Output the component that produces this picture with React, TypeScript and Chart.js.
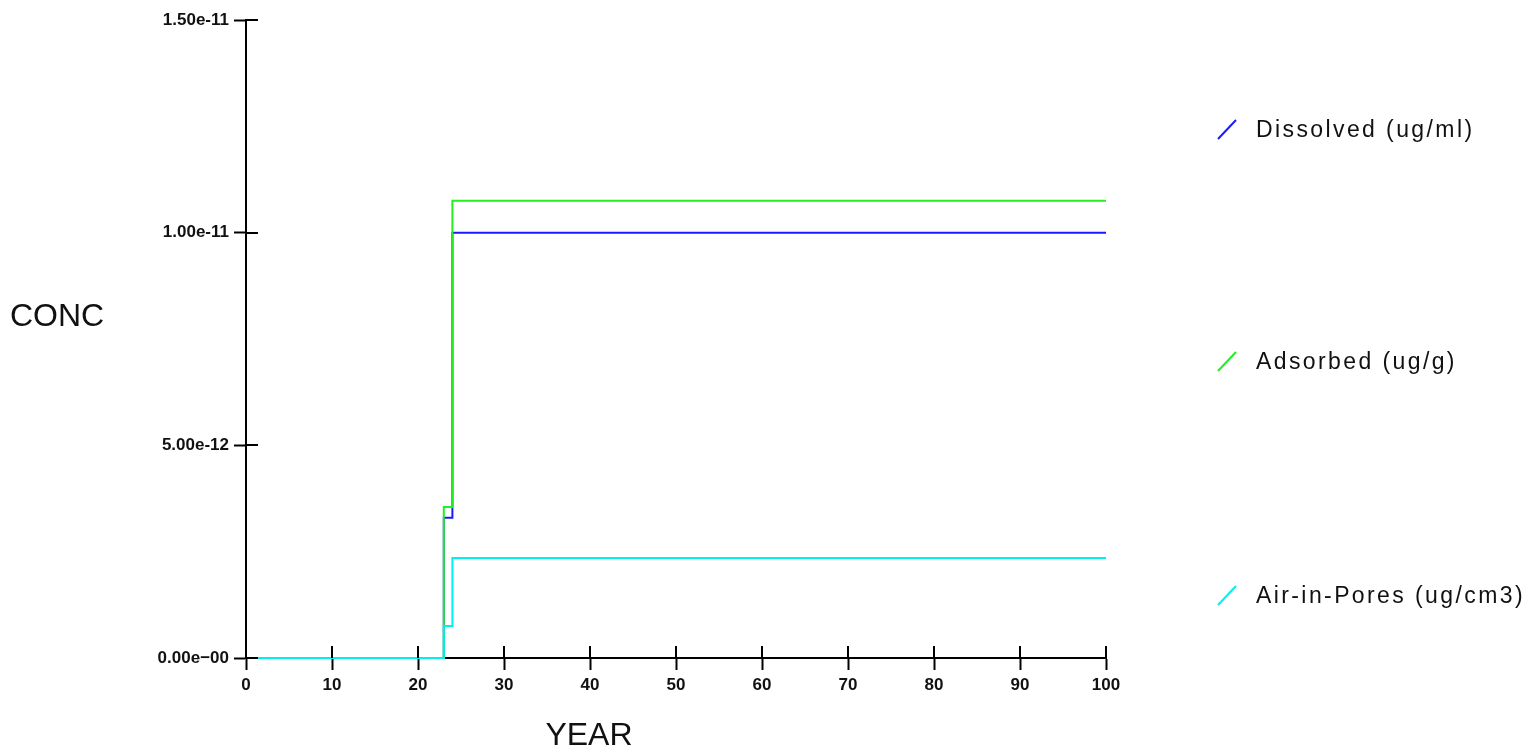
import React, { useEffect, useRef } from "react";
import { Chart, registerables } from "chart.js";

Chart.register(...registerables);

// ---- data ----
const years = [0, 23, 24, 100];
const dissolved = [0, 3.3e-12, 1.0e-11, 1.0e-11];
const adsorbed = [0, 3.55e-12, 1.075e-11, 1.075e-11];
const airInPores = [0, 0.75e-12, 2.35e-12, 2.35e-12];

const seriesNames = ["Dissolved (ug/ml)", "Adsorbed (ug/g)", "Air-in-Pores (ug/cm3)"];
const seriesColors = ["#1a1aff", "#22ee22", "#00f0f0"];

const xTickValues = [0, 10, 20, 30, 40, 50, 60, 70, 80, 90, 100];
const yTickLabels = ["0.00e\u221200", "5.00e-12", "1.00e-11", "1.50e-11"];

const xTitle = "YEAR";
const yTitle = "CONC";

const FONT = "'Liberation Sans', Arial, sans-serif";

const decorPlugin = {
  id: "decor",
  afterDatasetsDraw(chart: any) {
    const ctx = chart.ctx;
    const xs = chart.scales.x;
    const ys = chart.scales.y;
    const area = chart.chartArea;
    ctx.save();
    ctx.strokeStyle = "#000";
    ctx.lineWidth = 2;
    ctx.beginPath();
    xs.ticks.forEach((_t: any, i: number) => {
      const px = Math.round(xs.getPixelForTick(i));
      ctx.moveTo(px, area.bottom);
      ctx.lineTo(px, area.bottom - 12);
    });
    ys.ticks.forEach((_t: any, i: number) => {
      const py = Math.round(ys.getPixelForTick(i));
      ctx.moveTo(area.left, py);
      ctx.lineTo(area.left + 12, py);
    });
    ctx.stroke();

    // axis titles
    ctx.fillStyle = "#111";
    ctx.font = `32px ${FONT}`;
    ctx.textBaseline = "alphabetic";
    ctx.textAlign = "left";
    ctx.fillText(yTitle, 10, 326);
    ctx.textAlign = "center";
    ctx.fillText(xTitle, 589, 745);

    // legend
    const baselines = [137, 369, 603];
    ctx.font = `23px ${FONT}`;
    ctx.textAlign = "left";
    try {
      (ctx as any).letterSpacing = "2.4px";
    } catch (e) {}
    seriesNames.forEach((name, i) => {
      const b = baselines[i];
      ctx.strokeStyle = seriesColors[i];
      ctx.lineWidth = 2;
      ctx.beginPath();
      ctx.moveTo(1218, b + 2);
      ctx.lineTo(1236, b - 17);
      ctx.stroke();
      ctx.fillStyle = "#111";
      ctx.fillText(name, 1256, b);
    });
    ctx.restore();
  },
};

export default function App() {
  const ref = useRef<HTMLCanvasElement>(null);

  useEffect(() => {
    if (!ref.current) return;
    const mk = (d: number[]) => years.map((x, i) => ({ x, y: d[i] }));
    const ds = (i: number, d: number[], order: number) => ({
      label: seriesNames[i],
      data: mk(d),
      borderColor: seriesColors[i],
      borderWidth: 2,
      stepped: "before",
      pointRadius: 0,
      order,
      clip: false,
    });
    const chart = new Chart(ref.current, {
      type: "line",
      data: {
        datasets: [ds(0, dissolved, 2), ds(1, adsorbed, 1), ds(2, airInPores, 0)],
      },
      options: {
        animation: false,
        responsive: false,
        layout: { padding: { left: 0, top: 20, right: 431, bottom: 0 } },
        plugins: {
          legend: { display: false },
          tooltip: { enabled: false },
          title: { display: false },
        },
        scales: {
          x: {
            type: "linear",
            min: 0,
            max: 100,
            afterBuildTicks: (s: any) => {
              s.ticks = xTickValues.map((v) => ({ value: v }));
            },
            afterFit: (s: any) => {
              s.height = 98;
            },
            ticks: {
              color: "#111",
              font: { family: FONT, size: 17, weight: "bold" },
              padding: 5,
              maxRotation: 0,
              autoSkip: false,
            },
            grid: {
              drawOnChartArea: false,
              drawTicks: true,
              tickLength: 12,
              tickWidth: 2,
              tickColor: "#000",
            },
            border: { display: true, color: "#000", width: 2 },
          },
          y: {
            type: "linear",
            min: 0,
            max: 1.5e-11,
            ticks: {
              stepSize: 5e-12,
              color: "#111",
              font: { family: FONT, size: 17, weight: "bold" },
              padding: 5,
              callback: (_v: any, i: number) => yTickLabels[i],
            },
            afterFit: (s: any) => {
              s.width = 246;
            },
            grid: {
              drawOnChartArea: false,
              drawTicks: true,
              tickLength: 12,
              tickWidth: 2,
              tickColor: "#000",
            },
            border: { display: true, color: "#000", width: 2 },
          },
        },
      },
      plugins: [decorPlugin],
    } as any);
    return () => chart.destroy();
  }, []);

  return (
    <div style={{ position: "absolute", left: 0, top: 0, width: 1537, height: 756, background: "#fff" }}>
      <canvas ref={ref} width={1537} height={756} style={{ display: "block" }} />
    </div>
  );
}
